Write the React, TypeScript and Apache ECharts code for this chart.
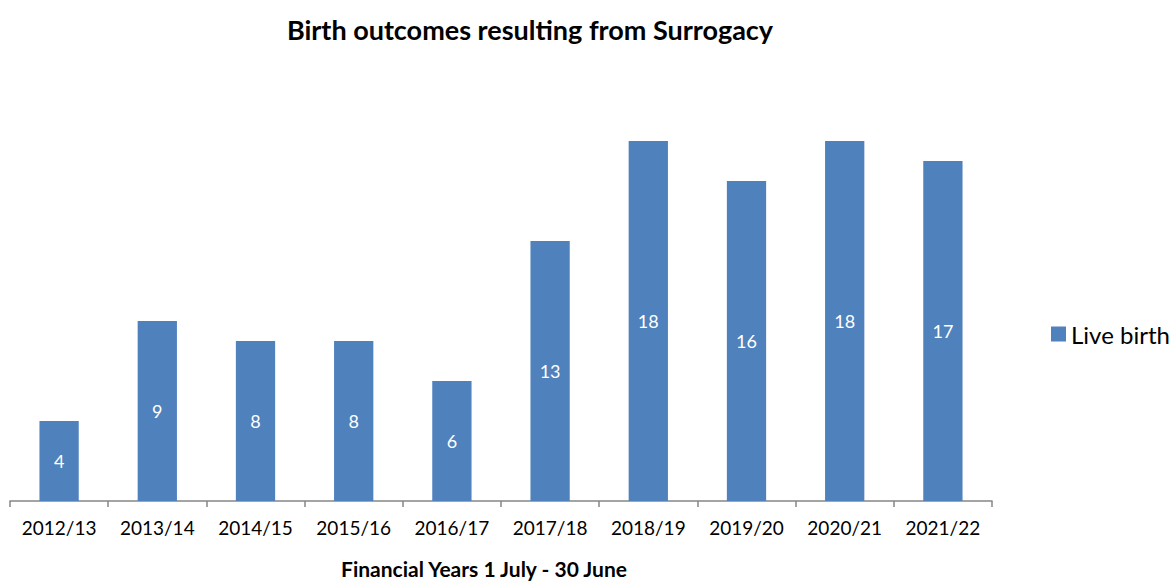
import React, { useEffect, useRef } from "react";
import * as echarts from "echarts";

const categories = ["2012/13", "2013/14", "2014/15", "2015/16", "2016/17", "2017/18", "2018/19", "2019/20", "2020/21", "2021/22"];
const liveBirth = [4, 9, 8, 8, 6, 13, 18, 16, 18, 17];

const FONT = "Lato";

export default function App() {
  const ref = useRef<HTMLDivElement>(null);
  useEffect(() => {
    const chart = echarts.init(ref.current!, null, { renderer: "svg" });
    chart.setOption({
      animation: false,
      backgroundColor: "#ffffff",
      title: [
        {
          text: "Birth outcomes resulting from Surrogacy",
          left: 525,
          top: 11,
          textAlign: "center",
          textStyle: { fontFamily: FONT, fontWeight: "bold", fontSize: 27, color: "#000" },
        },
        {
          text: "Financial Years 1 July - 30 June",
          left: 484,
          top: 558,
          textAlign: "center",
          padding: 0,
          textStyle: { fontFamily: FONT, fontWeight: "bold", fontSize: 21, color: "#000" },
        },
      ],
      legend: {
        left: 1046,
        top: 317,
        orient: "vertical",
        icon: "rect",
        itemWidth: 15,
        itemHeight: 15,
        itemGap: 6,
        padding: 5,
        textStyle: { fontFamily: FONT, fontSize: 24, color: "#000", padding: [0, 0, 0, 0] },
        data: ["Live birth"],
      },
      grid: { left: 10, right: 182, top: 101, bottom: 86, containLabel: false },
      xAxis: {
        type: "category",
        data: categories,
        axisLine: { lineStyle: { color: "#868686", width: 1.5 } },
        axisTick: { show: true, length: 6, lineStyle: { color: "#868686", width: 1.5 } },
        axisLabel: { fontFamily: FONT, fontSize: 19, color: "#000", margin: 17, interval: 0 },
      },
      yAxis: {
        type: "value",
        min: 0,
        max: 20,
        show: false,
        splitLine: { show: false },
      },
      series: [
        {
          name: "Live birth",
          type: "bar",
          data: liveBirth,
          barWidth: "40%",
          itemStyle: { color: "#4F81BD" },
          label: {
            show: true,
            position: "inside",
            color: "#fff",
            fontFamily: FONT,
            fontSize: 18,
          },
        },
      ],
    });
    return () => chart.dispose();
  }, []);
  return <div ref={ref} style={{ width: 1174, height: 587, position: "absolute", left: 0, top: 0 }} />;
}
